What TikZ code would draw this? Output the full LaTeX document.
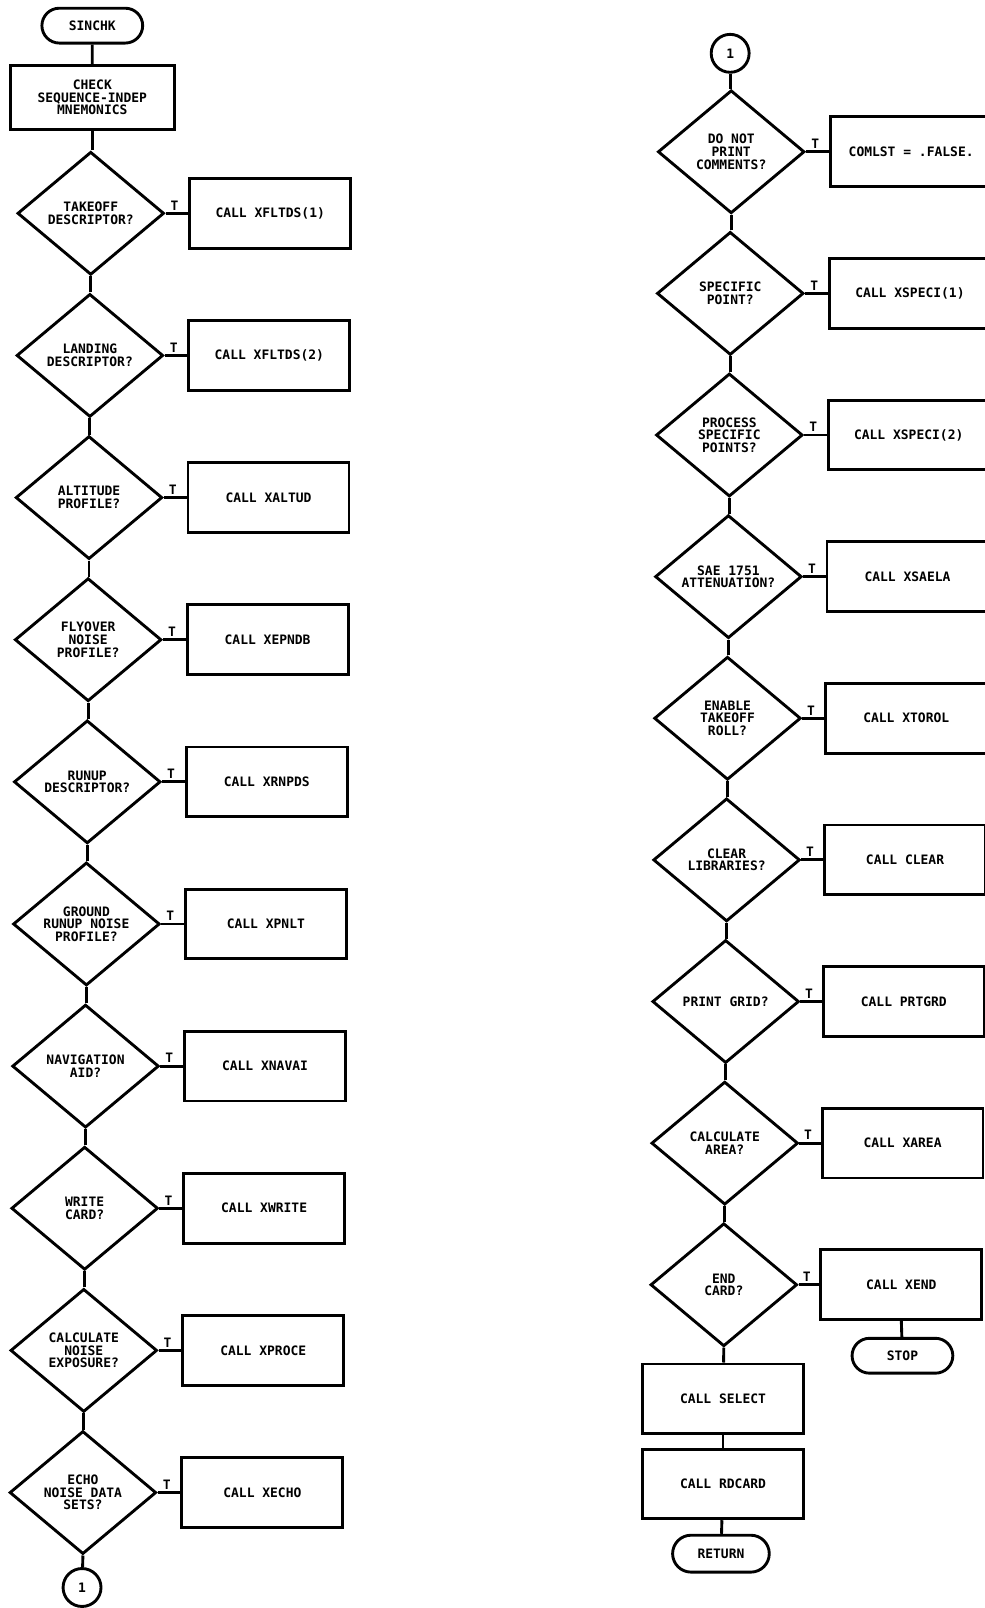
\documentclass[tikz,border=0pt]{standalone}
\usepackage{fontspec}
\setmonofont{DejaVu Sans Mono}
\usetikzlibrary{shapes.geometric,shapes.misc,positioning}
\newcommand{\chartfont}{\ttfamily\bfseries\fontsize{7.2}{7}\selectfont}
\tikzset{
	flow/.style={line width=1.6pt},
	test/.style={diamond, draw, flow, minimum width=2.86cm, minimum height=2.4cm, inner sep=0pt, align=center, font=\chartfont},
	callbox/.style={rectangle, draw, flow, minimum width=3.14cm, minimum height=1.36cm, align=center, font=\chartfont},
	ends/.style={rounded rectangle, draw, flow, minimum width=2.2cm, minimum height=0.68cm, font=\chartfont},
	link/.style={circle, draw, flow, minimum size=0.74cm, inner sep=0pt, font=\chartfont},
	tlabel/.style={font=\chartfont, inner sep=1pt}
}
\begin{document}
\begin{tikzpicture}[x=0.02cm, y=-0.02cm]
	\useasboundingbox (0,0) rectangle (960,1568);
	% left column
	\node[ends] (start) at (90,25) {SINCHK};
	\node[callbox, minimum width=3.2cm, minimum height=1.24cm] (L0) at (90,95) {CHECK\\SEQUENCE-INDEP\\MNEMONICS};
	\draw[flow] (start) -- (L0);
	\foreach \q/\c [count=\i, remember=\i as \last (initially 0)] in {
		{TAKEOFF\\DESCRIPTOR?}/{CALL XFLTDS(1)},
		{LANDING\\DESCRIPTOR?}/{CALL XFLTDS(2)},
		{ALTITUDE\\PROFILE?}/{CALL XALTUD},
		{FLYOVER\\NOISE\\PROFILE?}/{CALL XEPNDB},
		{RUNUP\\DESCRIPTOR?}/{CALL XRNPDS},
		{GROUND\\RUNUP NOISE\\PROFILE?}/{CALL XPNLT},
		{NAVIGATION\\AID?}/{CALL XNAVAI},
		{WRITE\\CARD?}/{CALL XWRITE},
		{CALCULATE\\NOISE\\EXPOSURE?}/{CALL XPROCE},
		{ECHO\\NOISE DATA\\SETS?}/{CALL XECHO}}{
		\node[test] (L\i) at ({88.5-0.85*(\i-1)},{208+138.6*(\i-1)}) {\q};
		\node[callbox] (LC\i) at ({263.5-0.85*(\i-1)},{208+138.6*(\i-1)}) {\c};
		\draw[flow] (L\last.south) -- (L\last.south |- L\i.north);
		\draw[flow] (L\i.east) -- node[tlabel, above, pos=0.4] {T} (LC\i.west);
	}
	\node[link] (goto) at (80,1548) {1};
	\draw[flow] (L10.south) -- (goto);
	% right column
	\node[link] (R0) at (712,52) {1};
	\foreach \q/\c [count=\i, remember=\i as \last (initially 0)] in {
		{DO NOT\\PRINT\\COMMENTS?}/{COMLST = .FALSE.},
		{SPECIFIC\\POINT?}/{CALL XSPECI(1)},
		{PROCESS\\SPECIFIC\\POINTS?}/{CALL XSPECI(2)},
		{SAE 1751\\ATTENUATION?}/{CALL XSAELA},
		{ENABLE\\TAKEOFF\\ROLL?}/{CALL XTOROL},
		{CLEAR\\LIBRARIES?}/{CALL CLEAR},
		{PRINT GRID?}/{CALL PRTGRD},
		{CALCULATE\\AREA?}/{CALL XAREA},
		{END\\CARD?}/{CALL XEND}}{
		\node[test] (R\i) at ({713-0.9*(\i-1)},{148+138.1*(\i-1)}) {\q};
		\node[callbox] (RC\i) at ({888.5-1.2*(\i-1)},{148+138.1*(\i-1)}) {\c};
		\draw[flow] (R\last.south) -- (R\last.south |- R\i.north);
		\draw[flow] (R\i.east) -- node[tlabel, above, pos=0.4] {T} (RC\i.west);
	}
	\node[ends] (stop) at (880,1322) {STOP};
	\draw[flow] (RC9.south) -- (stop);
	\node[callbox] (select) at (705,1364) {CALL SELECT};
	\node[callbox] (rdcard) at (705,1447) {CALL RDCARD};
	\node[ends, minimum width=2.12cm, minimum height=0.72cm] (return) at (703,1515) {RETURN};
	\draw[flow] (R9.south) -- (select);
	\draw[flow] (select) -- (rdcard);
	\draw[flow] (rdcard) -- (return);
\end{tikzpicture}
\end{document}
